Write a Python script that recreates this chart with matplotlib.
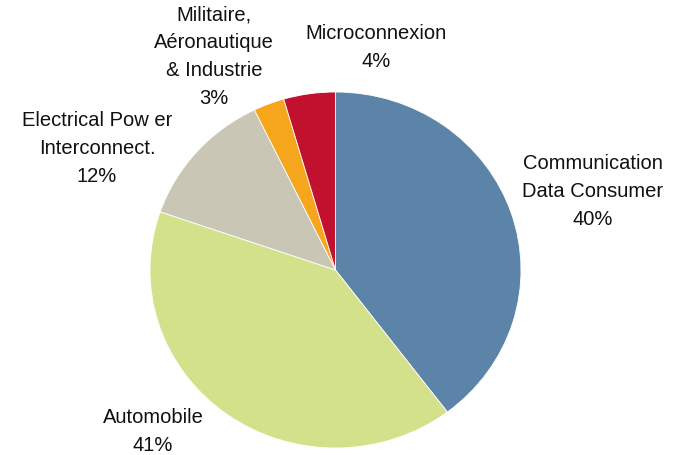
import matplotlib
matplotlib.use("Agg")
import matplotlib.pyplot as plt

categories = ["Communication\nData Consumer", "Automobile", "Electrical Pow er\nInterconnect.",
              "Militaire,\nAéronautique\n& Industrie", "Microconnexion"]
values = [39.7, 40.6, 12.5, 2.7, 4.5]
pct_labels = ["40%", "41%", "12%", "3%", "4%"]
colors = ["#5B84A8", "#D3E18A", "#C9C6B5", "#F5A61C", "#C2112F"]
# label block centers in pixels (x, y from top)
label_pos = [(593, 192), (153, 432), (97, 149), (214, 57), (376, 47.5)]

W, H = 685, 456
fig = plt.figure(figsize=(W / 100, H / 100), dpi=100)
l, r, t, b = 150, 521, 93, 449
ax = fig.add_axes([l / W, 1 - b / H, (r - l) / W, (b - t) / H])
ax.pie(values, colors=colors, startangle=90, counterclock=False,
       wedgeprops=dict(edgecolor="white", linewidth=0.6))
ax.set_aspect("auto")
ax.set_xlim(-1, 1)
ax.set_ylim(-1, 1)
ax.axis("off")

for cat, p, (px, py) in zip(categories, pct_labels, label_pos):
    fig.text(px / W, 1 - py / H, f"{cat}\n{p}", ha="center", va="center",
             fontsize=14.5, family="Liberation Sans", linespacing=1.6, color="#111111")

fig.savefig("out.png", dpi=100)
